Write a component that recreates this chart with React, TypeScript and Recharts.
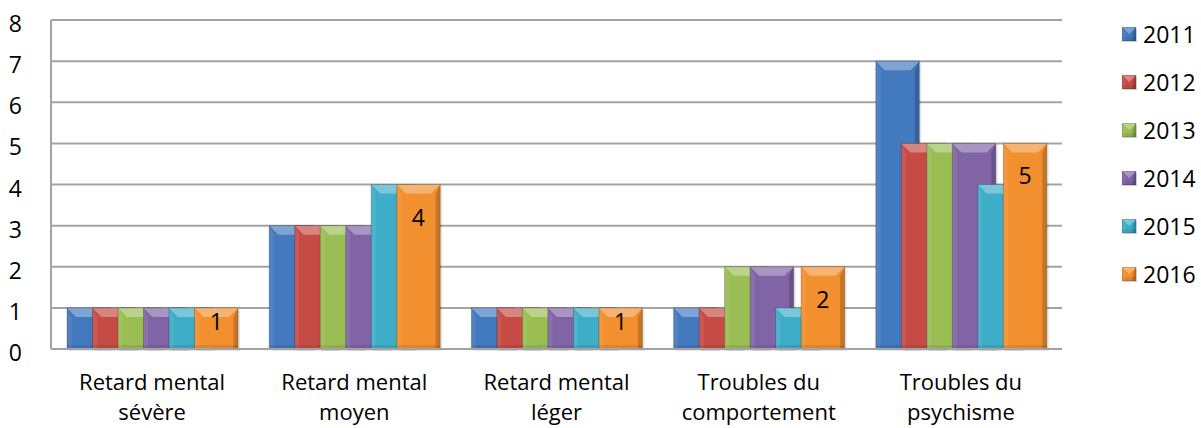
import { BarChart, Bar, XAxis, YAxis, CartesianGrid, LabelList } from 'recharts';

const categoryLines = [
    ['Retard mental', 'sévère'],
    ['Retard mental', 'moyen'],
    ['Retard mental', 'léger'],
    ['Troubles du', 'comportement'],
    ['Troubles du', 'psychisme'],
];
const categories = categoryLines.map(l => l.join(' '));

const years = ['2011', '2012', '2013', '2014', '2015', '2016'];
const values2011 = [1, 3, 1, 1, 7];
const values2012 = [1, 3, 1, 1, 5];
const values2013 = [1, 3, 1, 2, 5];
const values2014 = [1, 3, 1, 2, 5];
const values2015 = [1, 4, 1, 1, 4];
const values2016 = [1, 4, 1, 2, 5];
const yTicks = [0, 1, 2, 3, 4, 5, 6, 7, 8];

const seriesValues = [values2011, values2012, values2013, values2014, values2015, values2016];
const colors = ['#4379BE', '#C64B45', '#9ABD54', '#8164A6', '#3DADC8', '#F28F2F'];

const FONT = '"Open Sans", Lato, sans-serif';
const FS = 23;

const data = categories.map((name, i) => {
    const row: Record<string, any> = { name, idx: i };
    years.forEach((y, s) => { row[y] = seriesValues[s][i]; });
    return row;
});

// Beveled bar: flat fill plus light/dark edge facets
function BevelBar(props: any) {
    const { x, y, width, height, fill } = props;
    if (!height || height <= 0) return null;
    const b = Math.min(9, height / 2);
    const r = x + width;
    const bt = y + height;
    return (
        <g>
            <rect x={x + 2} y={y + 2} width={width} height={height} fill="#000" opacity={0.1} />
            <rect x={x} y={y} width={width} height={height} fill={fill} />
            <polygon points={`${x},${y} ${r},${y} ${r - b},${y + b} ${x + b},${y + b}`} fill="#fff" opacity={0.32} />
            <polygon points={`${x},${y} ${x + b / 2},${y + b} ${x + b / 2},${bt} ${x},${bt}`} fill="#fff" opacity={0.08} />
            <polygon points={`${r},${y} ${r - b / 2},${y + b} ${r - b / 2},${bt} ${r},${bt}`} fill="#000" opacity={0.18} />
            <rect x={x} y={bt - 4} width={width} height={4} fill="#000" opacity={0.08} />
            <rect x={x} y={y} width={width} height={height} fill="none" stroke="#000" strokeOpacity={0.22} strokeWidth={1} />
        </g>
    );
}

// two-line category label, one text per line
function CategoryTick({ x, y, payload }: any) {
    const lines = categoryLines[payload.index] || [payload.value];
    return (
        <g>
            {lines.map((line, i) => (
                <text key={i} x={x} y={y + 39 + i * 30} textAnchor="middle" fontFamily={FONT} fontSize={22} fill="#000">
                    {line}
                </text>
            ))}
        </g>
    );
}

function ValueTick({ x, y, payload }: any) {
    return (
        <text x={x} y={y} dy={12} textAnchor="end" fontFamily={FONT} fontSize={FS} fill="#000">
            {payload.value}
        </text>
    );
}

function TopLabel({ x, y, width, height, value }: any) {
    const dy = Math.min(33, height / 2 - 6);
    return (
        <text x={x + width / 2} y={y + dy} dy={8} textAnchor="middle" fontFamily={FONT} fontSize={FS} fill="#000">
            {value}
        </text>
    );
}

export default function App() {
    return (
        <div style={{ position: 'absolute', left: 0, top: 0, width: 1201, height: 428, background: '#fff' }}>
            <BarChart
                width={1201}
                height={428}
                data={data}
                margin={{ top: 20, right: 139, left: 0, bottom: 0 }}
                barSize={43.5}
                barGap={-18}
            >
                <CartesianGrid horizontal vertical={false} stroke="#A3A3A3" strokeWidth={2} />
                <XAxis
                    dataKey="name"
                    height={79}
                    interval={0}
                    tickLine={false}
                    tickSize={0}
                    axisLine={{ stroke: '#A3A3A3', strokeWidth: 2 }}
                    tick={<CategoryTick />}
                />
                <YAxis
                    width={51}
                    domain={[0, 8]}
                    ticks={yTicks}
                    tickLine={false}
                    tickSize={0}
                    tickMargin={29}
                    axisLine={{ stroke: '#A3A3A3', strokeWidth: 2 }}
                    tick={<ValueTick />}
                />
                {years.map((yr, s) => (
                    <Bar key={yr} dataKey={yr} fill={colors[s]} shape={<BevelBar />} isAnimationActive={false}>
                        {s === years.length - 1 && <LabelList dataKey={yr} content={<TopLabel />} />}
                    </Bar>
                ))}
            </BarChart>
            {/* legend */}
            <div style={{ position: 'absolute', left: 1122, top: 10 }}>
                {years.map((yr, s) => (
                    <div key={yr} style={{ display: 'flex', alignItems: 'center', height: 48 }}>
                        <svg width={15} height={15} style={{ marginRight: 6 }}>
                            <BevelBar x={0} y={0} width={14} height={14} fill={colors[s]} />
                        </svg>
                        <span style={{ fontFamily: FONT, fontSize: FS, color: '#000', lineHeight: '26px' }}>{yr}</span>
                    </div>
                ))}
            </div>
        </div>
    );
}
